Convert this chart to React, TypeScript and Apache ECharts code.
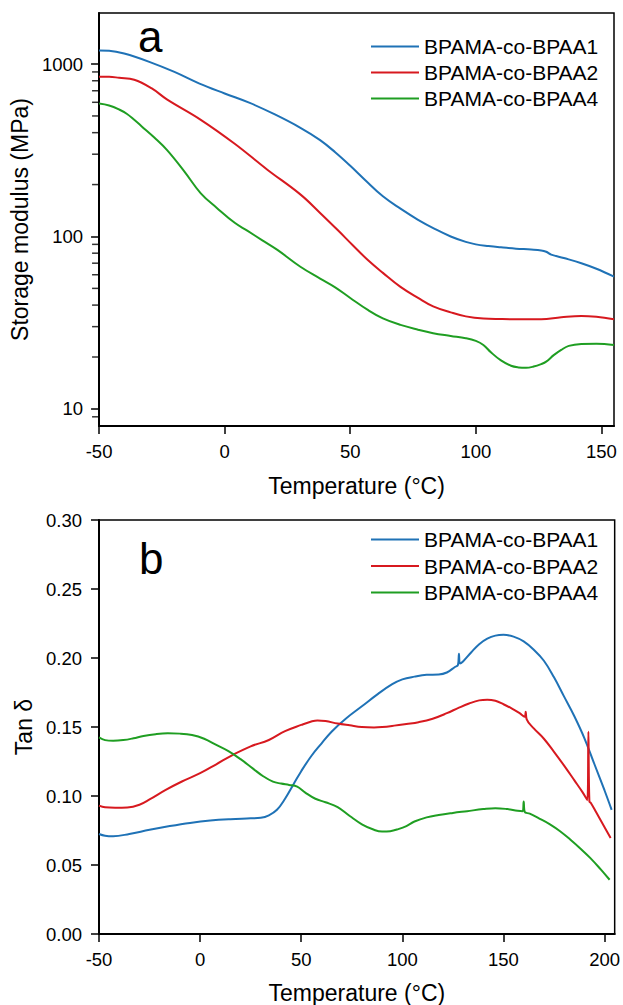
import React, { useEffect, useRef } from "react";
import * as echarts from "echarts";

// ---------- Panel a: storage modulus (MPa) ----------
const seriesNames = ["BPAMA-co-BPAA1", "BPAMA-co-BPAA2", "BPAMA-co-BPAA4"];
const colors = ["#1f72b6", "#d7191f", "#1f9e22"];

const modTempA1 = [-50, -46, -40, -30, -20, -10, 0, 10, 20, 30, 38, 44, 50, 56, 63, 70, 77, 84, 90, 96, 100, 105, 110, 116, 122, 126, 128, 130, 135, 142, 148, 155];
const modValA1 = [1200, 1195, 1150, 1030, 900, 770, 675, 595, 510, 428, 362, 308, 257, 212, 171, 145, 125, 110, 100, 93, 90, 88, 86.5, 85, 84, 83, 81.5, 78.5, 75, 70, 65, 58.5];

const modTempA2 = [-50, -46, -42, -36, -29, -23, -9.5, 4, 17, 30, 38, 45, 51, 57, 63, 70, 77, 83, 90, 96, 103, 110, 118, 126, 134, 142, 148, 155];
const modValA2 = [845, 844, 832, 811, 722, 624, 475, 345, 244, 176, 137, 109, 89, 73, 61.5, 51, 44, 39.3, 36.3, 34.4, 33.4, 33.2, 33.1, 33.1, 34, 34.6, 34.2, 33.1];

const modTempA4 = [-50, -46, -42, -39, -36, -33, -28, -23, -16, -9.5, -3, 4, 9, 15, 21, 30, 38, 44, 50, 57, 63, 70, 77, 83, 90, 96, 100, 103, 106, 110, 114, 117, 120, 123, 126, 128, 131, 134, 137, 142, 148, 155];
const modValA4 = [590, 575, 545, 515, 475, 435, 375, 318, 238, 178, 146, 120, 108, 95, 83.6, 67, 57, 50.7, 44, 37.5, 33.5, 30.7, 28.8, 27.5, 26.5, 25.7, 24.8, 23.5, 21.3, 19.1, 17.8, 17.4, 17.3, 17.6, 18.2, 18.8, 20.5, 22, 23.2, 23.8, 23.9, 23.5];

const modMajorTicks = [10, 100, 1000];
const modMinorTicks = [9, 20, 30, 40, 50, 60, 70, 80, 90, 200, 300, 400, 500, 600, 700, 800, 900];
const modMin = 7.96;
const modMax = 1977;

// ---------- Panel b: tan delta ----------
const tanTempB1 = [-50, -47, -43, -35, -25, -15, -5, 5, 15, 25, 30, 34, 38, 42, 46, 50, 55, 60, 65, 72, 80, 88, 95, 100, 106, 112, 118, 122, 126, 127.5, 128, 128.5, 130, 134, 138, 142, 146, 150, 155, 160, 165, 170, 175, 180, 185, 190, 195, 200, 203.5];
const tanValB1 = [0.0725, 0.0712, 0.0708, 0.0725, 0.0755, 0.0782, 0.0805, 0.0822, 0.0832, 0.0838, 0.0842, 0.086, 0.09, 0.098, 0.108, 0.118, 0.129, 0.138, 0.1466, 0.156, 0.165, 0.174, 0.181, 0.1845, 0.1865, 0.1878, 0.188, 0.1895, 0.1935, 0.195, 0.203, 0.196, 0.1975, 0.204, 0.21, 0.214, 0.2162, 0.2168, 0.2155, 0.212, 0.206, 0.198, 0.186, 0.172, 0.158, 0.142, 0.123, 0.104, 0.09];

const tanTempB2 = [-50, -47, -42, -36, -30, -25, -17, -9, 0, 8, 16, 25, 34, 42, 50, 55, 58, 62, 68, 74, 80, 86, 90, 96, 102, 108, 115, 122, 128, 133, 138, 142, 146, 150, 154, 158, 160.5, 161, 161.5, 165, 170, 175, 180, 185, 189, 191.5, 192, 192.5, 193.3, 196, 200, 203];
const tanValB2 = [0.093, 0.0918, 0.0915, 0.0917, 0.0937, 0.0975, 0.1044, 0.1105, 0.1165, 0.123, 0.1297, 0.136, 0.1406, 0.147, 0.1515, 0.154, 0.1548, 0.1543, 0.1525, 0.1512, 0.15, 0.1497, 0.15, 0.151, 0.1522, 0.1535, 0.156, 0.16, 0.164, 0.167, 0.1693, 0.1698, 0.169, 0.1665, 0.1635, 0.16, 0.1575, 0.161, 0.1555, 0.149, 0.1415, 0.132, 0.122, 0.1115, 0.103, 0.097, 0.1466, 0.096, 0.0948, 0.0878, 0.0774, 0.0696];

const tanTempB4 = [-50, -47, -43, -38, -33, -28, -22, -16, -10, -4, 2, 8, 14, 20, 26, 31, 36, 40, 44, 48, 52, 57, 62, 68, 74, 80, 86, 90, 94, 98, 102, 106, 112, 118, 125, 132, 140, 146, 152, 157, 159.5, 160, 160.5, 163, 168, 173, 178, 183, 188, 193, 198, 202.5];
const tanValB4 = [0.1425, 0.1405, 0.14, 0.1405, 0.1418, 0.1435, 0.1448, 0.1454, 0.1452, 0.1442, 0.1415, 0.137, 0.1325, 0.1267, 0.12, 0.1145, 0.1104, 0.109, 0.108, 0.1068, 0.1025, 0.098, 0.0955, 0.092, 0.0855, 0.0795, 0.0755, 0.0742, 0.0745, 0.076, 0.0782, 0.0815, 0.0845, 0.0862, 0.0877, 0.089, 0.0905, 0.0912, 0.0905, 0.0893, 0.089, 0.096, 0.0885, 0.0872, 0.0835, 0.0795, 0.0745, 0.0685, 0.062, 0.055, 0.047, 0.0393];

const xTicksA = [-50, 0, 50, 100, 150];
const xTicksB = [-50, 0, 50, 100, 150, 200];

const FONT = "Liberation Sans, Arial, Helvetica, sans-serif";

function pairs(xs: number[], ys: number[], f?: (v: number) => number) {
  return xs.map((x, i) => [x, f ? f(ys[i]) : ys[i]]);
}

export default function App() {
  const ref = useRef<HTMLDivElement>(null);

  useEffect(() => {
    if (!ref.current) return;
    const chart = echarts.init(ref.current, undefined, { renderer: "svg" });
    const lg = Math.log10;

    const axisLine = { show: true, onZero: false, lineStyle: { color: "#000", width: 2 } };
    const tickStyle = { color: "#000", width: 1.5 };
    const labelStyle = { color: "#000", fontSize: 18.5, fontFamily: FONT };
    const nameStyle = { color: "#000", fontSize: 23, fontFamily: FONT };

    const lineSeries = (name: string, color: string, data: number[][], xi: number, yi: number, width: number) => ({
      type: "line",
      name,
      data,
      xAxisIndex: xi,
      yAxisIndex: yi,
      symbol: "none",
      smooth: 0.4,
      lineStyle: { color, width },
      itemStyle: { color },
      z: 3,
    });

    const legendBase = {
      data: seriesNames,
      orient: "vertical",
      left: 371,
      padding: 0,
      icon: "rect",
      itemWidth: 48,
      itemHeight: 2,
      textStyle: { color: "#000", fontSize: 21, fontFamily: FONT, lineHeight: 21 },
      selectedMode: false,
    };

    const xMinA = -50;

    const option: any = {
      animation: false,
      color: colors,
      grid: [
        { left: 98, top: 13, width: 516, height: 413, show: true, borderColor: "#000", borderWidth: 1.5, backgroundColor: "transparent" },
        { left: 99, top: 520, width: 518, height: 414, show: true, borderColor: "#000", borderWidth: 1.5, backgroundColor: "transparent" },
      ],
      legend: [
        { ...legendBase, top: 36, itemGap: 5 },
        { ...legendBase, top: 529, itemGap: 5.5 },
      ],
      xAxis: [
        {
          type: "value",
          gridIndex: 0,
          min: xMinA,
          max: 155,
          interval: 50,
          name: "Temperature (°C)",
          nameLocation: "middle",
          nameGap: 48,
          nameTextStyle: nameStyle,
          axisLine,
          axisTick: { show: true, length: 8, lineStyle: tickStyle, customValues: xTicksA },
          axisLabel: { ...labelStyle, margin: 16, customValues: xTicksA },
          splitLine: { show: false },
        },
        {
          type: "value",
          gridIndex: 1,
          min: -50,
          max: 205,
          interval: 50,
          name: "Temperature (°C)",
          nameLocation: "middle",
          nameGap: 47,
          nameTextStyle: nameStyle,
          axisLine,
          axisTick: { show: true, length: 8, lineStyle: tickStyle, customValues: xTicksB },
          axisLabel: { ...labelStyle, margin: 16, customValues: xTicksB },
          splitLine: { show: false },
        },
      ],
      yAxis: [
        {
          type: "value",
          gridIndex: 0,
          position: "left",
          min: lg(modMin),
          max: lg(modMax),
          name: "Storage modulus (MPa)",
          nameLocation: "middle",
          nameGap: 59,
          nameTextStyle: nameStyle,
          axisLine,
          axisTick: { show: true, length: 8, lineStyle: tickStyle, customValues: modMajorTicks.map(lg) },
          axisLabel: {
            ...labelStyle,
            margin: 16,
            customValues: modMajorTicks.map(lg),
            formatter: (v: number) => String(Math.round(Math.pow(10, v))),
          },
          splitLine: { show: false },
        },
        {
          type: "value",
          gridIndex: 1,
          position: "left",
          min: 0,
          max: 0.3,
          interval: 0.05,
          name: "Tan δ",
          nameLocation: "middle",
          nameGap: 60,
          nameTextStyle: nameStyle,
          axisLine,
          axisTick: { show: true, length: 8, lineStyle: tickStyle },
          axisLabel: { ...labelStyle, margin: 17, formatter: (v: number) => v.toFixed(2) },
          splitLine: { show: false },
        },
      ],
      graphic: [
        { type: "text", left: 138, top: 14, style: { text: "a", font: `44px ${FONT}`, fill: "#000" } },
        { type: "text", left: 139, top: 536, style: { text: "b", font: `44px ${FONT}`, fill: "#000" } },
      ],
      series: [
        {
          // minor log ticks on the left axis of panel a
          type: "scatter",
          name: "minor-ticks",
          xAxisIndex: 0,
          yAxisIndex: 0,
          data: modMinorTicks.map((v) => [xMinA, lg(v)]),
          symbol: "rect",
          symbolSize: [6, 1.5],
          symbolOffset: [-4, 0],
          itemStyle: { color: "#000" },
          clip: false,
          silent: true,
          z: 10,
        },
        lineSeries(seriesNames[0], colors[0], pairs(modTempA1, modValA1, lg), 0, 0, 2),
        lineSeries(seriesNames[1], colors[1], pairs(modTempA2, modValA2, lg), 0, 0, 2),
        lineSeries(seriesNames[2], colors[2], pairs(modTempA4, modValA4, lg), 0, 0, 2),
        lineSeries(seriesNames[0], colors[0], pairs(tanTempB1, tanValB1), 1, 1, 2),
        lineSeries(seriesNames[1], colors[1], pairs(tanTempB2, tanValB2), 1, 1, 2),
        lineSeries(seriesNames[2], colors[2], pairs(tanTempB4, tanValB4), 1, 1, 2),
      ],
    };

    chart.setOption(option);
    return () => chart.dispose();
  }, []);

  return (
    <div
      ref={ref}
      style={{ position: "fixed", left: 0, top: 0, width: 623, height: 1005, background: "#fff" }}
    />
  );
}
